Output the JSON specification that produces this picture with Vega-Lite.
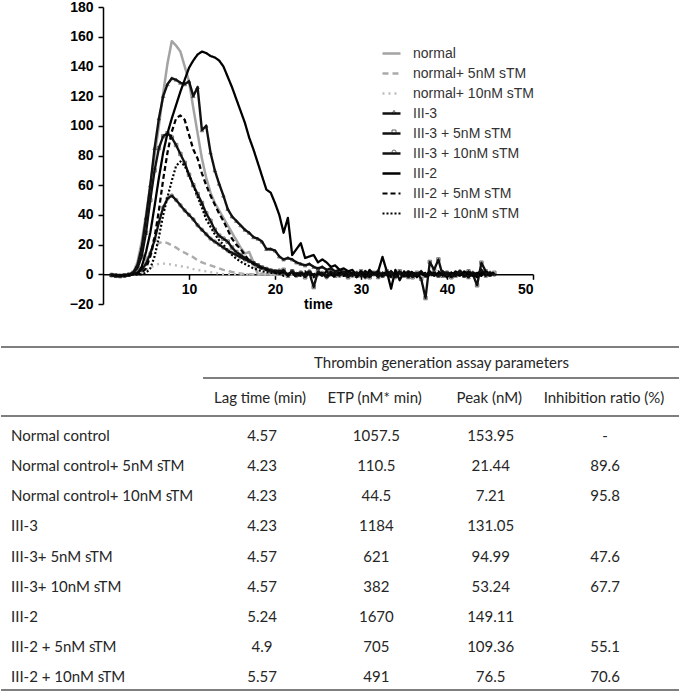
{
  "$schema": "https://vega.github.io/schema/vega-lite/v6.json",
  "padding": 0,
  "background": "white",
  "spacing": 20,
  "config": {"view": {"stroke": null}, "font": "Liberation Sans"},
  "vconcat": [
    {
      "width": 430,
      "height": 297,
      "data": {"values": [
        {"t":1,"N":0,"N5":0,"N10":0,"A":-0.5,"A5":-0.5,"A10":-0.5,"B":-0.5,"B5":-0.3,"B10":-0.3},
        {"t":1.5,"N":-0.5,"N5":0,"N10":0,"A":-1,"A5":-1,"A10":-0.8,"B":-0.8,"B5":-0.5,"B10":-0.5},
        {"t":2,"N":-0.8,"N5":-0.2,"N10":-0.2,"A":-1,"A5":-1.2,"A10":-1,"B":-1,"B5":-0.8,"B10":-0.6},
        {"t":2.5,"N":-0.5,"N5":-0.2,"N10":-0.2,"A":-0.8,"A5":-0.8,"A10":-0.8,"B":-0.8,"B5":-0.6,"B10":-0.5},
        {"t":3,"N":-0.2,"N5":0,"N10":0,"A":-0.3,"A5":-0.3,"A10":-0.3,"B":-0.5,"B5":-0.3,"B10":-0.3},
        {"t":3.5,"N":1,"N5":0,"N10":0,"A":1,"A5":1,"A10":0.5,"B":0,"B5":0,"B10":0},
        {"t":4,"N":8,"N5":1,"N10":0,"A":6,"A5":4,"A10":1,"B":0.5,"B5":0,"B10":0},
        {"t":4.5,"N":22,"N5":5,"N10":1,"A":18,"A5":12,"A10":3,"B":5,"B5":1,"B10":0},
        {"t":5,"N":40,"N5":10,"N10":2.5,"A":38,"A5":28,"A10":7,"B":15,"B5":4,"B10":1},
        {"t":5.5,"N":60,"N5":15,"N10":4.5,"A":60,"A5":50,"A10":14,"B":28,"B5":12,"B10":4},
        {"t":6,"N":80,"N5":19,"N10":6,"A":85,"A5":70,"A10":23,"B":46,"B5":25,"B10":12},
        {"t":6.5,"N":100,"N5":21,"N10":7,"A":105,"A5":85,"A10":35,"B":65,"B5":43,"B10":25},
        {"t":7,"N":122,"N5":22,"N10":7.2,"A":120,"A5":93,"A10":45,"B":82,"B5":64,"B10":40},
        {"t":7.5,"N":142,"N5":21,"N10":7,"A":128,"A5":95,"A10":51,"B":95,"B5":82,"B10":52},
        {"t":8,"N":157,"N5":19.5,"N10":6.5,"A":132,"A5":92,"A10":53,"B":105,"B5":96,"B10":63},
        {"t":8.5,"N":154,"N5":18,"N10":6,"A":131,"A5":87,"A10":50,"B":114,"B5":105,"B10":73},
        {"t":9,"N":150,"N5":16,"N10":5.5,"A":129,"A5":81,"A10":46.5,"B":123,"B5":107,"B10":76},
        {"t":9.5,"N":140,"N5":14.5,"N10":5,"A":128,"A5":75,"A10":43,"B":131,"B5":104,"B10":73},
        {"t":10,"N":130,"N5":13,"N10":4.5,"A":130,"A5":67,"A10":40,"B":139,"B5":94,"B10":67},
        {"t":10.5,"N":112,"N5":11.5,"N10":3.5,"A":120,"A5":60,"A10":37,"B":144,"B5":84,"B10":60},
        {"t":11,"N":95,"N5":9.5,"N10":3,"A":126,"A5":54,"A10":33,"B":148,"B5":78,"B10":52},
        {"t":11.5,"N":78,"N5":8,"N10":2.5,"A":97,"A5":48,"A10":30,"B":150,"B5":68,"B10":45},
        {"t":12,"N":65,"N5":7,"N10":2,"A":100,"A5":41,"A10":27,"B":149,"B5":60,"B10":37},
        {"t":12.5,"N":55,"N5":6,"N10":1.5,"A":82,"A5":36,"A10":24,"B":147,"B5":53,"B10":32},
        {"t":13,"N":48,"N5":5,"N10":1,"A":70,"A5":30,"A10":22,"B":146,"B5":47,"B10":27},
        {"t":13.5,"N":43,"N5":4,"N10":0.5,"A":61,"A5":26,"A10":20,"B":144,"B5":41,"B10":23},
        {"t":14,"N":38,"N5":3,"N10":0,"A":53,"A5":24,"A10":18,"B":140,"B5":36,"B10":20},
        {"t":14.5,"N":33,"N5":2.5,"N10":0,"A":44,"A5":22,"A10":16,"B":133,"B5":30,"B10":16},
        {"t":15,"N":28,"N5":1.5,"N10":0,"A":39,"A5":18,"A10":14.5,"B":126,"B5":24,"B10":13},
        {"t":15.5,"N":23,"N5":1,"N10":0,"A":36,"A5":15,"A10":13,"B":118,"B5":20,"B10":10.5},
        {"t":16,"N":18,"N5":0.5,"N10":0,"A":33,"A5":13,"A10":11.5,"B":110,"B5":17,"B10":8.5},
        {"t":16.5,"N":14,"N5":0,"N10":0,"A":30,"A5":11,"A10":10,"B":102,"B5":13,"B10":7},
        {"t":17,"N":15,"N5":0,"N10":0,"A":28,"A5":9,"A10":9,"B":92,"B5":9,"B10":5.5},
        {"t":17.5,"N":8,"N5":0,"N10":0,"A":25,"A5":7.5,"A10":7.5,"B":84,"B5":7,"B10":4},
        {"t":18,"N":0,"N5":0,"N10":0,"A":24,"A5":6,"A10":6,"B":75,"B5":5,"B10":3},
        {"t":18.5,"N":0.5,"N5":0,"N10":0,"A":22,"A5":4.5,"A10":4.5,"B":66,"B5":4,"B10":2},
        {"t":19,"N":0,"N5":0,"N10":0,"A":17,"A5":3.5,"A10":3.5,"B":57,"B5":3,"B10":1.5},
        {"t":19.5,"N":1,"N5":0,"N10":0,"A":17,"A5":2.5,"A10":2.5,"B":55,"B5":2,"B10":1},
        {"t":20,"N":-0.5,"N5":0,"N10":0,"A":16,"A5":2,"A10":2,"B":48,"B5":1,"B10":1},
        {"t":20.5,"N":0.5,"N5":0,"N10":0,"A":12,"A5":1,"A10":2.5,"B":40,"B5":0,"B10":0.5},
        {"t":21,"N":0,"N5":0,"N10":0,"A":10,"A5":3,"A10":1,"B":28,"B5":2,"B10":-1},
        {"t":21.5,"N":-0.5,"N5":0,"N10":0,"A":11,"A5":-1,"A10":0,"B":38,"B5":-1,"B10":1},
        {"t":22,"N":0.5,"N5":0,"N10":0,"A":10,"A5":2,"A10":2,"B":13,"B5":1,"B10":0},
        {"t":22.5,"N":0,"N5":0,"N10":0,"A":8,"A5":0,"A10":-1,"B":17,"B5":-2,"B10":1},
        {"t":23,"N":0,"N5":0,"N10":0,"A":7,"A5":1,"A10":1,"B":21,"B5":0,"B10":-1},
        {"t":23.5,"N":0.5,"N5":0,"N10":0,"A":6,"A5":-2,"A10":0,"B":11,"B5":2,"B10":0},
        {"t":24,"N":0,"N5":0,"N10":0,"A":7,"A5":1,"A10":2,"B":12,"B5":-1,"B10":1},
        {"t":24.5,"N":0,"N5":0,"N10":0,"A":5,"A5":-8.6,"A10":-1,"B":13,"B5":0,"B10":-2},
        {"t":25,"N":-0.5,"N5":0,"N10":0,"A":4,"A5":2,"A10":0,"B":8,"B5":1,"B10":1},
        {"t":25.5,"N":0,"N5":0,"N10":0,"A":5,"A5":0,"A10":1,"B":10,"B5":-1,"B10":0},
        {"t":26,"N":0,"N5":0,"N10":0,"A":3,"A5":-1,"A10":-2,"B":8,"B5":2,"B10":-1},
        {"t":26.5,"N":0.5,"N5":0,"N10":0,"A":4,"A5":2,"A10":0,"B":5,"B5":0,"B10":1},
        {"t":27,"N":0,"N5":0,"N10":0,"A":2,"A5":-1,"A10":1,"B":6,"B5":-2,"B10":0},
        {"t":27.5,"N":0,"N5":0,"N10":0,"A":3,"A5":1,"A10":-1,"B":3,"B5":1,"B10":2},
        {"t":28,"N":0,"N5":0,"N10":0,"A":1,"A5":0,"A10":2,"B":4,"B5":-1,"B10":-1},
        {"t":28.5,"N":-0.5,"N5":0,"N10":0,"A":2,"A5":-2,"A10":0,"B":2,"B5":2,"B10":0},
        {"t":29,"N":0,"N5":0,"N10":0,"A":0,"A5":1,"A10":-1,"B":3,"B5":0,"B10":1},
        {"t":29.5,"N":0,"N5":0,"N10":0,"A":1,"A5":-1,"A10":1,"B":-1,"B5":-2,"B10":-1},
        {"t":30,"N":0,"N5":0,"N10":0,"A":-1,"A5":2,"A10":0,"B":2,"B5":1,"B10":0},
        {"t":30.5,"N":0,"N5":0,"N10":0,"A":2,"A5":0,"A10":-2,"B":-2,"B5":0,"B10":2},
        {"t":31,"N":0,"N5":0,"N10":0,"A":0,"A5":-2,"A10":1,"B":3,"B5":-1,"B10":-1},
        {"t":31.5,"N":0,"N5":0,"N10":0,"A":1,"A5":1,"A10":0,"B":0,"B5":2,"B10":0},
        {"t":32,"N":0,"N5":0,"N10":0,"A":-2,"A5":0,"A10":2,"B":2,"B5":-1,"B10":1},
        {"t":32.5,"N":0,"N5":0,"N10":0,"A":1,"A5":-1,"A10":-1,"B":11.7,"B5":0,"B10":-1},
        {"t":33,"N":0,"N5":0,"N10":0,"A":0,"A5":2,"A10":0,"B":2,"B5":1,"B10":2},
        {"t":33.5,"N":0,"N5":0,"N10":0,"A":2,"A5":-1,"A10":1,"B":-9.7,"B5":-2,"B10":-1},
        {"t":34,"N":0,"N5":0,"N10":0,"A":-1,"A5":0,"A10":-2,"B":3,"B5":1,"B10":0},
        {"t":34.5,"N":0,"N5":0,"N10":0,"A":1,"A5":2,"A10":1,"B":-4,"B5":0,"B10":1},
        {"t":35,"N":0,"N5":0,"N10":0,"A":0,"A5":-1,"A10":0,"B":2,"B5":-1,"B10":-1},
        {"t":35.5,"N":0,"N5":0,"N10":0,"A":-2,"A5":1,"A10":1,"B":-1,"B5":2,"B10":0},
        {"t":36,"N":0,"N5":0,"N10":0,"A":1,"A5":-2,"A10":-1,"B":1,"B5":0,"B10":2},
        {"t":36.5,"N":0,"N5":0,"N10":0,"A":0,"A5":1,"A10":0,"B":-2,"B5":-1,"B10":-1},
        {"t":37,"N":0,"N5":0,"N10":0,"A":2,"A5":-3,"A10":1,"B":1,"B5":1,"B10":0},
        {"t":37.5,"N":0,"N5":0,"N10":0,"A":-1,"A5":-16,"A10":-1,"B":-1,"B5":-2,"B10":1},
        {"t":38,"N":0,"N5":0,"N10":0,"A":1,"A5":8.3,"A10":0,"B":2,"B5":0,"B10":-1},
        {"t":38.5,"N":0,"N5":0,"N10":0,"A":0,"A5":3,"A10":1,"B":-1,"B5":1,"B10":0},
        {"t":39,"N":0,"N5":0,"N10":0,"A":-1,"A5":10,"A10":-1,"B":1,"B5":-1,"B10":2},
        {"t":39.5,"N":0,"N5":0,"N10":0,"A":2,"A5":-1,"A10":0,"B":0,"B5":0,"B10":-1},
        {"t":40,"N":0,"N5":0,"N10":0,"A":0,"A5":1,"A10":1,"B":-2,"B5":1,"B10":0},
        {"t":40.5,"N":0,"N5":0,"N10":0,"A":1,"A5":-2,"A10":-1,"B":1,"B5":-1,"B10":1},
        {"t":41,"N":0,"N5":0,"N10":0,"A":-1,"A5":0,"A10":0,"B":0,"B5":2,"B10":-1},
        {"t":41.5,"N":0,"N5":0,"N10":0,"A":2,"A5":1,"A10":2,"B":-1,"B5":0,"B10":0},
        {"t":42,"N":0,"N5":0,"N10":0,"A":0,"A5":-1,"A10":-1,"B":2,"B5":-1,"B10":1},
        {"t":42.5,"N":0,"N5":0,"N10":0,"A":-2,"A5":2,"A10":0,"B":0,"B5":1,"B10":-1},
        {"t":43,"N":0,"N5":0,"N10":0,"A":1,"A5":0,"A10":1,"B":-1,"B5":0,"B10":0},
        {"t":43.5,"N":0,"N5":0,"N10":0,"A":0,"A5":-7.4,"A10":-1,"B":1,"B5":-2,"B10":1},
        {"t":44,"N":0,"N5":0,"N10":0,"A":3,"A5":7.8,"A10":2,"B":-1,"B5":1,"B10":-1},
        {"t":44.5,"N":0,"N5":0,"N10":0,"A":-1,"A5":2,"A10":0,"B":2,"B5":0,"B10":0},
        {"t":45,"N":0,"N5":0,"N10":0,"A":1,"A5":0,"A10":1,"B":0,"B5":-1,"B10":1},
        {"t":45.5,"N":0,"N5":0,"N10":0,"A":0,"A5":1,"A10":0,"B":1,"B5":0,"B10":0}
      ]},
      "transform": [
        {"fold": ["N","N5","N10","A","A5","A10","B","B5","B10"], "as": ["k","v"]},
        {"lookup": "k", "from": {"data": {"values": [
          {"k":"N","series":"normal"},
          {"k":"N5","series":"normal+ 5nM sTM"},
          {"k":"N10","series":"normal+ 10nM sTM"},
          {"k":"A","series":"III-3"},
          {"k":"A5","series":"III-3 + 5nM sTM"},
          {"k":"A10","series":"III-3 + 10nM sTM"},
          {"k":"B","series":"III-2"},
          {"k":"B5","series":"III-2 + 5nM sTM"},
          {"k":"B10","series":"III-2 + 10nM sTM"}
        ]}, "key": "k", "fields": ["series"]}}
      ],
      "encoding": {
        "x": {"field": "t", "type": "quantitative",
          "scale": {"domain": [0, 50], "nice": false, "zero": false},
          "axis": {"values": [10, 20, 30, 40, 50], "offset": -29.7, "title": "time",
            "titleFontWeight": "bold", "titleFontSize": 14, "titleColor": "black", "titlePadding": 1,
            "labelFontWeight": "bold", "labelFontSize": 14, "labelColor": "black", "labelPadding": 3,
            "tickSize": 5, "tickColor": "black", "tickWidth": 1.5, "domainColor": "black", "domainWidth": 1.5, "grid": false}},
        "y": {"field": "v", "type": "quantitative",
          "scale": {"domain": [-20, 180], "nice": false, "zero": false},
          "axis": {"values": [-20, 0, 20, 40, 60, 80, 100, 120, 140, 160, 180], "title": null,
            "labelFontWeight": "bold", "labelFontSize": 14, "labelColor": "black", "labelPadding": 5,
            "tickSize": 5, "tickColor": "black", "tickWidth": 1.5, "domainColor": "black", "domainWidth": 1.5,
            "grid": false}}
      },
      "layer": [
        {
          "mark": {"type": "line", "strokeCap": "butt", "strokeJoin": "round"},
          "encoding": {
            "detail": {"field": "series", "type": "nominal"},
            "color": {"field": "series", "type": "nominal",
              "scale": {"domain": ["normal","normal+ 5nM sTM","normal+ 10nM sTM","III-3","III-3 + 5nM sTM","III-3 + 10nM sTM","III-2","III-2 + 5nM sTM","III-2 + 10nM sTM"],
                "range": ["#a3a3a3","#ababab","#bdbdbd","#111111","#111111","#111111","#000000","#000000","#000000"]},
              "legend": {"title": null, "orient": "none", "legendX": 278, "legendY": 36,
                "symbolType": "stroke", "symbolSize": 324, "padding": 0, "rowPadding": 2,
                "labelFontSize": 14, "labelColor": "#333333", "labelOffset": 11, "labelFont": "Liberation Sans"}},
            "strokeDash": {"field": "series", "type": "nominal",
              "scale": {"domain": ["normal","normal+ 5nM sTM","normal+ 10nM sTM","III-3","III-3 + 5nM sTM","III-3 + 10nM sTM","III-2","III-2 + 5nM sTM","III-2 + 10nM sTM"],
                "range": [[1,0],[6,4],[2,4],[1,0],[1,0],[1,0],[1,0],[5,3],[2,2]]}},
            "strokeWidth": {"field": "series", "type": "nominal",
              "scale": {"domain": ["normal","normal+ 5nM sTM","normal+ 10nM sTM","III-3","III-3 + 5nM sTM","III-3 + 10nM sTM","III-2","III-2 + 5nM sTM","III-2 + 10nM sTM"],
                "range": [2.5, 2.2, 2.2, 1, 1, 1, 1.8, 1.6, 1.6]}}
          }
        },
        {
          "transform": [{"filter": {"field": "k", "oneOf": ["A", "A5", "A10"]}}],
          "mark": {"type": "point", "filled": false, "size": 12, "strokeWidth": 0.8, "color": "#111111"},
          "encoding": {
            "shape": {"field": "series", "type": "nominal",
              "scale": {"domain": ["III-3","III-3 + 5nM sTM","III-3 + 10nM sTM"], "range": ["triangle-up","square","circle"]},
              "legend": {"title": null, "orient": "none", "legendX": 284, "legendY": 98,
                "symbolSize": 16, "symbolStrokeWidth": 0.9, "symbolStrokeColor": "#111111", "symbolFillColor": "white",
                "padding": 0, "rowPadding": 6, "labelFontSize": 14, "labelOpacity": 0, "labelOffset": 11}}
          }
        }
      ]
    },
    {
      "width": 577,
      "height": 360,
      "resolve": {"scale": {"x": "independent", "y": "independent"}},
      "layer": [
        {
          "data": {"values": [{"edge": "top"}, {"edge": "bottom"}]},
          "mark": {"type": "rule", "stroke": "#7f7f7f", "strokeWidth": 2},
          "encoding": {
            "x": {"datum": "left", "type": "nominal", "axis": null,
              "scale": {"type": "point", "domain": ["left", "right"], "range": [-102, 577], "padding": 0}},
            "x2": {"datum": "right"},
            "y": {"field": "edge", "type": "nominal", "axis": null,
              "scale": {"type": "point", "domain": ["top", "bottom"], "range": [15, 358], "padding": 0}}}
        },
        {
          "data": {"values": [{"rule": "group"}]},
          "mark": {"type": "rule", "stroke": "#7f7f7f", "strokeWidth": 2},
          "encoding": {
            "x": {"datum": "start", "type": "nominal", "axis": null,
              "scale": {"type": "point", "domain": ["start", "mid", "end"], "range": [100, 577], "padding": 0}},
            "x2": {"datum": "end"},
            "y": {"field": "rule", "type": "nominal", "axis": null,
              "scale": {"type": "point", "domain": ["group", "column"], "range": [46, 84], "padding": 0}}}
        },
        {
          "data": {"values": [{"rule": "column"}]},
          "mark": {"type": "rule", "stroke": "#7f7f7f", "strokeWidth": 2},
          "encoding": {
            "x": {"datum": "left", "type": "nominal", "axis": null,
              "scale": {"type": "point", "domain": ["left", "right"], "range": [-102, 577], "padding": 0}},
            "x2": {"datum": "right"},
            "y": {"field": "rule", "type": "nominal", "axis": null,
              "scale": {"type": "point", "domain": ["group", "column"], "range": [46, 84], "padding": 0}}}
        },
        {
          "data": {"values": [{"level": "title", "text": "Thrombin generation assay parameters"}]},
          "mark": {"type": "text", "font": "Lato", "fontSize": 15, "color": "#262626", "baseline": "middle"},
          "encoding": {
            "x": {"datum": "mid", "type": "nominal", "axis": null,
              "scale": {"type": "point", "domain": ["start", "mid", "end"], "range": [100, 577], "padding": 0}},
            "y": {"field": "level", "type": "nominal", "axis": null,
              "scale": {"type": "point", "domain": ["title", "columns"], "range": [31, 66], "padding": 0}},
            "text": {"field": "text"}}
        },
        {
          "data": {"values": [
            {"level": "columns", "col": "Lag time (min)"},
            {"level": "columns", "col": "ETP (nM* min)"},
            {"level": "columns", "col": "Peak (nM)"},
            {"level": "columns", "col": "Inhibition ratio (%)"}
          ]},
          "mark": {"type": "text", "font": "Lato", "fontSize": 15, "color": "#262626", "baseline": "middle"},
          "encoding": {
            "x": {"field": "col", "type": "nominal", "axis": null,
              "scale": {"type": "point", "domain": ["Lag time (min)", "ETP (nM* min)", "Peak (nM)", "Inhibition ratio (%)"], "range": [157, 501], "padding": 0}},
            "y": {"field": "level", "type": "nominal", "axis": null,
              "scale": {"type": "point", "domain": ["title", "columns"], "range": [31, 66], "padding": 0}},
            "text": {"field": "col"}}
        },
        {
          "data": {"name": "table"},
          "mark": {"type": "text", "font": "Lato", "fontSize": 15, "color": "#262626", "align": "left", "baseline": "middle"},
          "encoding": {
            "x": {"datum": "row label", "type": "nominal", "axis": null,
              "scale": {"type": "point", "domain": ["row label"], "range": [-92, -92], "padding": 0}},
            "y": {"field": "label", "type": "nominal", "axis": null,
              "scale": {"type": "point", "domain": ["Normal control","Normal control+ 5nM sTM","Normal control+ 10nM sTM","III-3","III-3+ 5nM sTM","III-3+ 10nM sTM","III-2","III-2 + 5nM sTM","III-2 + 10nM sTM"], "range": [104, 345], "padding": 0}},
            "text": {"field": "label"}}
        },
        {
          "data": {"name": "table"},
          "transform": [{"fold": ["Lag time (min)", "ETP (nM* min)", "Peak (nM)", "Inhibition ratio (%)"], "as": ["key", "value"]}],
          "mark": {"type": "text", "font": "Lato", "fontSize": 15, "color": "#262626", "baseline": "middle"},
          "encoding": {
            "x": {"field": "key", "type": "nominal", "axis": null,
              "scale": {"type": "point", "domain": ["Lag time (min)", "ETP (nM* min)", "Peak (nM)", "Inhibition ratio (%)"], "range": [159, 502], "padding": 0}},
            "y": {"field": "label", "type": "nominal", "axis": null,
              "scale": {"type": "point", "domain": ["Normal control","Normal control+ 5nM sTM","Normal control+ 10nM sTM","III-3","III-3+ 5nM sTM","III-3+ 10nM sTM","III-2","III-2 + 5nM sTM","III-2 + 10nM sTM"], "range": [104, 345], "padding": 0}},
            "text": {"field": "value"}}
        }
      ]
    }
  ],
  "datasets": {
    "table": [
      {"label": "Normal control", "Lag time (min)": "4.57", "ETP (nM* min)": "1057.5", "Peak (nM)": "153.95", "Inhibition ratio (%)": "-"},
      {"label": "Normal control+ 5nM sTM", "Lag time (min)": "4.23", "ETP (nM* min)": "110.5", "Peak (nM)": "21.44", "Inhibition ratio (%)": "89.6"},
      {"label": "Normal control+ 10nM sTM", "Lag time (min)": "4.23", "ETP (nM* min)": "44.5", "Peak (nM)": "7.21", "Inhibition ratio (%)": "95.8"},
      {"label": "III-3", "Lag time (min)": "4.23", "ETP (nM* min)": "1184", "Peak (nM)": "131.05", "Inhibition ratio (%)": ""},
      {"label": "III-3+ 5nM sTM", "Lag time (min)": "4.57", "ETP (nM* min)": "621", "Peak (nM)": "94.99", "Inhibition ratio (%)": "47.6"},
      {"label": "III-3+ 10nM sTM", "Lag time (min)": "4.57", "ETP (nM* min)": "382", "Peak (nM)": "53.24", "Inhibition ratio (%)": "67.7"},
      {"label": "III-2", "Lag time (min)": "5.24", "ETP (nM* min)": "1670", "Peak (nM)": "149.11", "Inhibition ratio (%)": ""},
      {"label": "III-2 + 5nM sTM", "Lag time (min)": "4.9", "ETP (nM* min)": "705", "Peak (nM)": "109.36", "Inhibition ratio (%)": "55.1"},
      {"label": "III-2 + 10nM sTM", "Lag time (min)": "5.57", "ETP (nM* min)": "491", "Peak (nM)": "76.5", "Inhibition ratio (%)": "70.6"}
    ]
  }
}
